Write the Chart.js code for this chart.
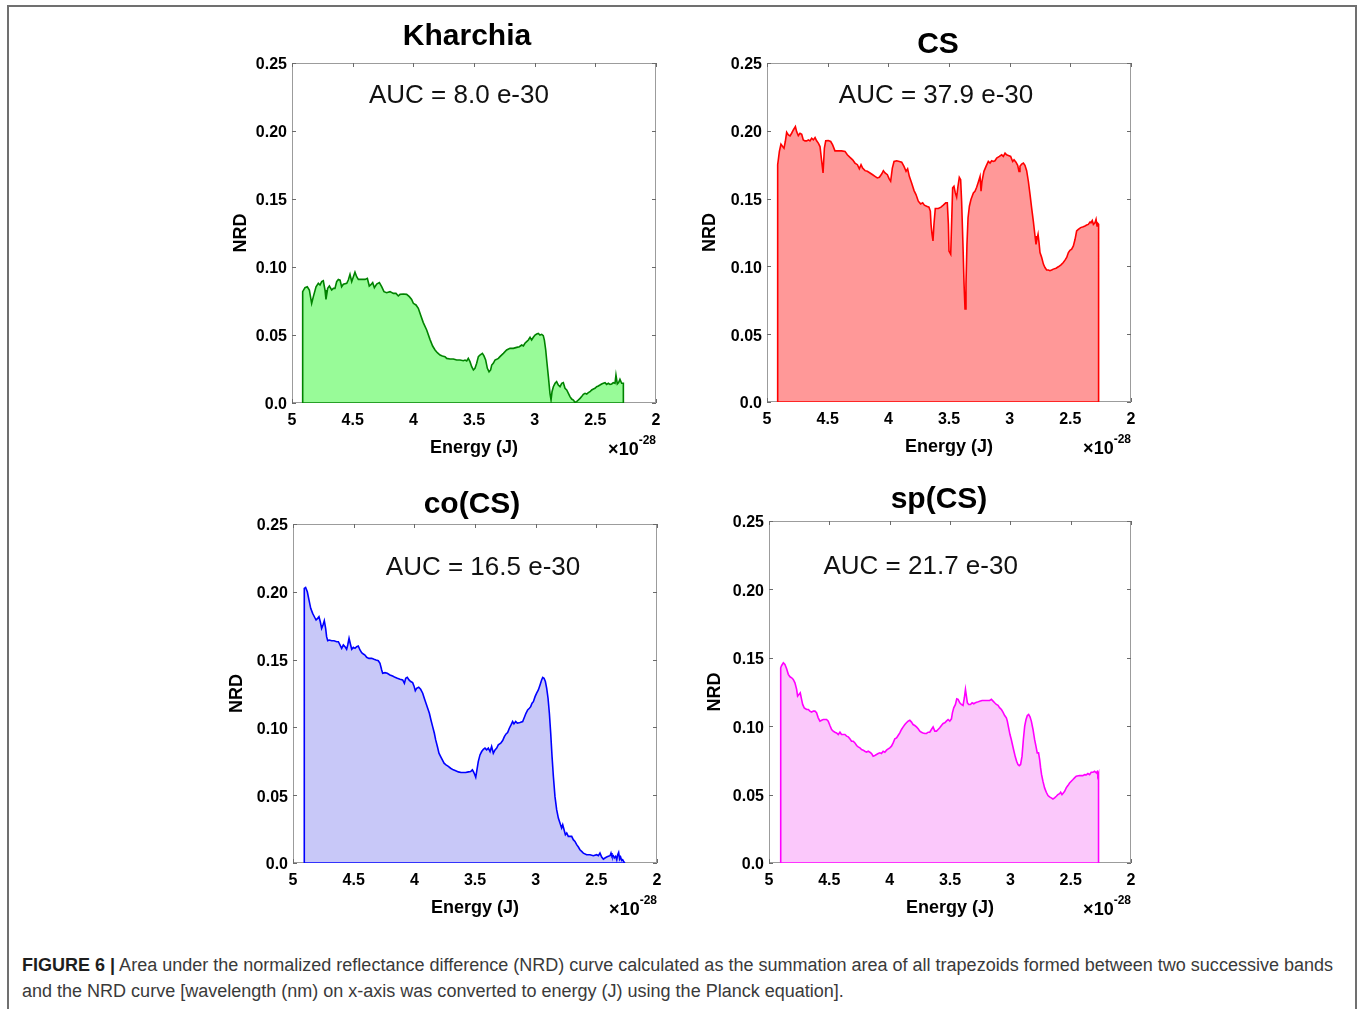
<!DOCTYPE html>
<html>
<head>
<meta charset="utf-8">
<title>NRD area under curve</title>
<script src="https://cdn.jsdelivr.net/npm/chart.js@4.4.1/dist/chart.umd.min.js"></script>
<style>
  html, body { margin: 0; padding: 0; background: #fff; }
  body { width: 1360px; height: 1009px; position: relative; overflow: hidden;
         font-family: 'Liberation Sans', Arial, Helvetica, sans-serif; }
  .frame { position: absolute; left: 7px; top: 5px; width: 1346px; height: 1100px;
           border: 2px solid #707070; border-bottom: none; }
  canvas { position: absolute; }
  .caption { position: absolute; left: 22px; top: 952px; font-size: 18px; line-height: 26px;
             color: #3a3a3a; white-space: nowrap; }
  .caption .row { display: block; height: 26px; }
  .caption .line { display: inline-block; transform-origin: 0 50%; }
  .caption b { color: #1e1e1e; }
</style>
</head>
<body>
<div class="frame"></div>
<canvas id="p0"></canvas>
<canvas id="p1"></canvas>
<canvas id="p2"></canvas>
<canvas id="p3"></canvas>
<div class="caption">
  <div class="row"><span class="line"><b>FIGURE 6 |</b> Area under the normalized reflectance difference (NRD) curve calculated as the summation area of all trapezoids formed between two successive bands</span></div>
  <div class="row"><span class="line">and the NRD curve [wavelength (nm) on x-axis was converted to energy (J) using the Planck equation].</span></div>
</div>
<script>
// ---- axis ticks -------------------------------------------------------------
const xTickValues = [5, 4.5, 4, 3.5, 3, 2.5, 2];
const xTickLabels = ['5', '4.5', '4', '3.5', '3', '2.5', '2'];
const yTickValues = [0, 0.05, 0.10, 0.15, 0.20, 0.25];
const yTickLabels = ['0.0', '0.05', '0.10', '0.15', '0.20', '0.25'];

// ---- panel titles and areas under curve (x 1e-30) ---------------------------
const panelTitles = ['Kharchia', 'CS', 'co(CS)', 'sp(CS)'];
const aucValues = ['8.0', '37.9', '16.5', '21.7'];

// ---- Kharchia: energy (x1e-28 J) and NRD ------------------------------------
const kharchiaEnergy = [
  4.912,4.893,4.874,4.857,4.838,4.824,4.802,4.783,4.769,4.755,
  4.742,4.728,4.720,4.706,4.692,4.673,4.659,4.646,4.632,4.618,
  4.604,4.591,4.577,4.549,4.536,4.522,4.508,4.494,4.481,4.467,
  4.453,4.426,4.398,4.379,4.363,4.352,4.335,4.321,4.302,4.280,
  4.261,4.242,4.220,4.192,4.165,4.143,4.124,4.110,4.082,4.055,
  4.033,4.014,4.000,3.978,3.959,3.940,3.918,3.890,3.863,3.841,
  3.821,3.802,3.780,3.761,3.739,3.725,3.698,3.670,3.643,3.615,
  3.588,3.574,3.560,3.547,3.533,3.519,3.505,3.492,3.478,3.464,
  3.451,3.431,3.418,3.404,3.390,3.376,3.363,3.354,3.341,3.327,
  3.313,3.299,3.286,3.258,3.231,3.203,3.176,3.148,3.126,3.107,
  3.093,3.080,3.066,3.052,3.038,3.025,3.011,2.997,2.983,2.970,
  2.956,2.942,2.929,2.920,2.909,2.901,2.887,2.874,2.865,2.857,
  2.846,2.832,2.819,2.805,2.791,2.777,2.764,2.750,2.736,2.722,
  2.709,2.695,2.681,2.668,2.654,2.640,2.626,2.613,2.599,2.585,
  2.571,2.558,2.544,2.530,2.516,2.503,2.489,2.475,2.462,2.448,
  2.434,2.420,2.407,2.393,2.379,2.365,2.352,2.338,2.330,2.319,
  2.308,2.297,2.283,2.269
];
const kharchiaNrd = [
  0.0819,0.0848,0.0855,0.0831,0.0733,0.0782,0.0855,0.0880,0.0868,0.0892,
  0.0899,0.0831,0.0762,0.0843,0.0860,0.0831,0.0843,0.0843,0.0892,0.0909,
  0.0904,0.0855,0.0873,0.0880,0.0904,0.0946,0.0892,0.0929,0.0963,0.0929,
  0.0909,0.0909,0.0909,0.0917,0.0860,0.0868,0.0885,0.0848,0.0875,0.0885,
  0.0855,0.0819,0.0811,0.0819,0.0806,0.0806,0.0787,0.0799,0.0801,0.0799,
  0.0782,0.0762,0.0733,0.0721,0.0696,0.0647,0.0591,0.0537,0.0468,0.0419,
  0.0390,0.0370,0.0353,0.0346,0.0341,0.0328,0.0324,0.0324,0.0316,0.0316,
  0.0311,0.0316,0.0309,0.0328,0.0304,0.0267,0.0243,0.0255,0.0292,0.0341,
  0.0353,0.0365,0.0346,0.0316,0.0255,0.0230,0.0243,0.0279,0.0292,0.0316,
  0.0321,0.0328,0.0341,0.0365,0.0390,0.0402,0.0402,0.0409,0.0414,0.0426,
  0.0419,0.0439,0.0451,0.0463,0.0483,0.0463,0.0483,0.0500,0.0507,0.0512,
  0.0500,0.0505,0.0495,0.0463,0.0390,0.0316,0.0194,0.0071,0.0022,0.0083,
  0.0120,0.0145,0.0157,0.0132,0.0120,0.0145,0.0150,0.0108,0.0096,0.0071,
  0.0047,0.0029,0.0022,0.0005,0.0010,0.0022,0.0034,0.0047,0.0064,0.0071,
  0.0066,0.0076,0.0083,0.0096,0.0103,0.0108,0.0120,0.0125,0.0132,0.0140,
  0.0145,0.0150,0.0137,0.0145,0.0137,0.0140,0.0150,0.0145,0.0206,0.0140,
  0.0150,0.0174,0.0145,0.0145
];

// ---- CS ---------------------------------------------------------------------
const csEnergy = [
  4.912,4.898,4.885,4.871,4.860,4.849,4.838,4.824,4.810,4.797,
  4.783,4.766,4.756,4.742,4.728,4.714,4.701,4.687,4.673,4.659,
  4.646,4.632,4.618,4.604,4.591,4.577,4.563,4.549,4.538,4.527,
  4.516,4.495,4.475,4.459,4.440,4.412,4.385,4.357,4.338,4.316,
  4.294,4.275,4.255,4.239,4.225,4.212,4.192,4.173,4.151,4.129,
  4.110,4.091,4.074,4.055,4.041,4.027,4.008,3.994,3.981,3.967,
  3.953,3.931,3.909,3.890,3.871,3.854,3.841,3.827,3.808,3.788,
  3.772,3.753,3.734,3.717,3.703,3.684,3.665,3.654,3.648,3.640,
  3.632,3.624,3.613,3.588,3.566,3.547,3.527,3.514,3.505,3.500,
  3.486,3.478,3.470,3.459,3.448,3.437,3.426,3.415,3.404,3.396,
  3.385,3.376,3.368,3.360,3.352,3.343,3.332,3.319,3.299,3.286,
  3.272,3.258,3.244,3.236,3.228,3.212,3.195,3.176,3.162,3.148,
  3.135,3.121,3.107,3.085,3.066,3.052,3.038,3.025,3.011,2.992,
  2.975,2.964,2.948,2.934,2.923,2.915,2.901,2.887,2.874,2.860,
  2.846,2.832,2.819,2.805,2.791,2.783,2.775,2.766,2.758,2.750,
  2.736,2.722,2.709,2.695,2.681,2.668,2.654,2.640,2.618,2.599,
  2.577,2.558,2.544,2.530,2.516,2.503,2.489,2.475,2.461,2.448,
  2.434,2.415,2.393,2.379,2.365,2.352,2.338,2.330,2.319,2.310,
  2.297,2.288,2.280,2.272,2.267
];
const csNrd = [
  0.1750,0.1848,0.1901,0.1884,0.1872,0.1921,0.1989,0.1970,0.1962,0.1982,
  0.2006,0.2031,0.1994,0.1965,0.1982,0.1975,0.1933,0.1926,0.1926,0.1933,
  0.1926,0.1945,0.1933,0.1950,0.1926,0.1909,0.1884,0.1774,0.1689,0.1872,
  0.1926,0.1928,0.1921,0.1896,0.1852,0.1852,0.1852,0.1848,0.1823,0.1804,
  0.1786,0.1762,0.1750,0.1720,0.1750,0.1725,0.1706,0.1701,0.1689,0.1676,
  0.1664,0.1652,0.1657,0.1681,0.1706,0.1689,0.1676,0.1647,0.1628,0.1725,
  0.1774,0.1779,0.1774,0.1769,0.1738,0.1701,0.1720,0.1664,0.1615,0.1559,
  0.1530,0.1481,0.1461,0.1469,0.1452,0.1444,0.1437,0.1408,0.1310,0.1237,
  0.1188,0.1310,0.1427,0.1427,0.1437,0.1452,0.1469,0.1469,0.1310,0.1114,
  0.1090,0.1334,0.1579,0.1591,0.1542,0.1510,0.1591,0.1657,0.1640,0.1481,
  0.1163,0.0870,0.0687,0.0870,0.1163,0.1359,0.1444,0.1493,0.1542,0.1554,
  0.1584,0.1623,0.1664,0.1554,0.1628,0.1701,0.1738,0.1774,0.1762,0.1779,
  0.1774,0.1779,0.1799,0.1811,0.1823,0.1811,0.1835,0.1823,0.1818,0.1811,
  0.1774,0.1786,0.1769,0.1745,0.1701,0.1738,0.1755,0.1762,0.1745,0.1706,
  0.1628,0.1530,0.1432,0.1334,0.1224,0.1163,0.1200,0.1237,0.1175,0.1102,
  0.1066,0.1017,0.0992,0.0973,0.0973,0.0968,0.0973,0.0980,0.0987,0.0997,
  0.1012,0.1029,0.1046,0.1066,0.1102,0.1119,0.1127,0.1151,0.1200,0.1261,
  0.1273,0.1286,0.1293,0.1298,0.1305,0.1310,0.1327,0.1322,0.1339,0.1310,
  0.1322,0.1347,0.1298,0.1315,0.1310
];

// ---- co(CS) -----------------------------------------------------------------
const coEnergy = [
  4.907,4.896,4.882,4.868,4.854,4.838,4.824,4.810,4.797,4.786,
  4.775,4.764,4.753,4.742,4.731,4.723,4.714,4.701,4.681,4.662,
  4.640,4.626,4.613,4.599,4.585,4.571,4.558,4.549,4.538,4.527,
  4.516,4.503,4.489,4.475,4.462,4.448,4.434,4.420,4.407,4.393,
  4.374,4.352,4.332,4.316,4.297,4.283,4.269,4.261,4.242,4.223,
  4.201,4.179,4.159,4.140,4.118,4.096,4.082,4.071,4.058,4.044,
  4.030,4.014,4.003,3.992,3.981,3.964,3.948,3.931,3.918,3.904,
  3.890,3.876,3.863,3.849,3.835,3.824,3.810,3.797,3.783,3.769,
  3.755,3.739,3.720,3.701,3.679,3.659,3.637,3.615,3.596,3.577,
  3.555,3.536,3.522,3.514,3.505,3.494,3.486,3.473,3.459,3.445,
  3.431,3.418,3.404,3.390,3.376,3.363,3.349,3.335,3.321,3.308,
  3.288,3.272,3.258,3.244,3.231,3.217,3.203,3.190,3.179,3.165,
  3.151,3.129,3.107,3.093,3.080,3.066,3.052,3.041,3.030,3.019,
  3.005,2.992,2.978,2.964,2.951,2.942,2.931,2.920,2.909,2.898,
  2.887,2.876,2.865,2.854,2.841,2.827,2.813,2.799,2.786,2.777,
  2.766,2.755,2.744,2.731,2.717,2.703,2.690,2.676,2.662,2.648,
  2.635,2.621,2.607,2.580,2.552,2.525,2.497,2.483,2.470,2.456,
  2.442,2.429,2.415,2.401,2.387,2.379,2.371,2.360,2.352,2.341,
  2.332,2.324,2.316,2.308,2.300,2.291,2.283,2.272,2.264
];
const coNrd = [
  0.2025,0.2032,0.2000,0.1939,0.1878,0.1841,0.1816,0.1792,0.1804,0.1816,
  0.1779,0.1730,0.1755,0.1787,0.1730,0.1669,0.1639,0.1644,0.1639,0.1639,
  0.1632,0.1632,0.1608,0.1583,0.1608,0.1595,0.1576,0.1608,0.1657,0.1615,
  0.1576,0.1590,0.1583,0.1595,0.1600,0.1571,0.1551,0.1541,0.1534,0.1517,
  0.1509,0.1509,0.1502,0.1497,0.1492,0.1473,0.1423,0.1399,0.1404,0.1399,
  0.1387,0.1379,0.1369,0.1362,0.1355,0.1350,0.1325,0.1362,0.1369,0.1350,
  0.1338,0.1330,0.1306,0.1271,0.1288,0.1296,0.1281,0.1252,0.1215,0.1178,
  0.1141,0.1104,0.1055,0.1006,0.0957,0.0908,0.0859,0.0810,0.0785,0.0761,
  0.0736,0.0724,0.0712,0.0699,0.0687,0.0680,0.0672,0.0667,0.0667,0.0667,
  0.0672,0.0675,0.0687,0.0675,0.0658,0.0633,0.0675,0.0748,0.0797,0.0822,
  0.0839,0.0847,0.0834,0.0847,0.0822,0.0859,0.0810,0.0834,0.0847,0.0871,
  0.0883,0.0903,0.0932,0.0952,0.0962,0.0994,0.1018,0.1043,0.1026,0.1043,
  0.1031,0.1036,0.1043,0.1075,0.1104,0.1129,0.1141,0.1153,0.1178,0.1190,
  0.1227,0.1252,0.1276,0.1313,0.1350,0.1369,0.1362,0.1338,0.1288,0.1215,
  0.1104,0.0957,0.0785,0.0638,0.0491,0.0393,0.0331,0.0294,0.0258,0.0282,
  0.0245,0.0208,0.0221,0.0196,0.0196,0.0196,0.0172,0.0159,0.0135,0.0118,
  0.0098,0.0086,0.0073,0.0061,0.0061,0.0054,0.0061,0.0054,0.0073,0.0044,
  0.0029,0.0037,0.0044,0.0049,0.0054,0.0073,0.0049,0.0054,0.0037,0.0049,
  0.0024,0.0061,0.0078,0.0029,0.0044,0.0019,0.0024,0.0007,0.0000
];

// ---- sp(CS) -----------------------------------------------------------------
const spEnergy = [
  4.903,4.895,4.881,4.868,4.854,4.840,4.826,4.812,4.799,4.785,
  4.771,4.763,4.752,4.741,4.730,4.721,4.708,4.688,4.674,4.661,
  4.647,4.633,4.619,4.606,4.592,4.578,4.564,4.550,4.537,4.523,
  4.509,4.495,4.481,4.468,4.454,4.440,4.426,4.412,4.399,4.385,
  4.371,4.357,4.343,4.330,4.316,4.302,4.288,4.274,4.261,4.247,
  4.233,4.219,4.206,4.192,4.178,4.164,4.150,4.137,4.123,4.109,
  4.095,4.081,4.068,4.054,4.040,4.026,4.012,3.999,3.985,3.971,
  3.957,3.943,3.930,3.916,3.902,3.888,3.874,3.861,3.847,3.833,
  3.819,3.806,3.792,3.778,3.764,3.750,3.737,3.723,3.709,3.695,
  3.681,3.668,3.654,3.640,3.626,3.612,3.599,3.585,3.571,3.557,
  3.543,3.530,3.516,3.502,3.488,3.480,3.469,3.455,3.444,3.433,
  3.419,3.406,3.392,3.381,3.372,3.364,3.356,3.345,3.331,3.317,
  3.303,3.290,3.273,3.254,3.234,3.212,3.190,3.171,3.157,3.143,
  3.130,3.116,3.102,3.088,3.074,3.061,3.047,3.033,3.025,3.014,
  3.003,2.992,2.981,2.970,2.959,2.948,2.937,2.926,2.915,2.903,
  2.892,2.881,2.870,2.859,2.848,2.837,2.826,2.812,2.799,2.785,
  2.777,2.766,2.757,2.749,2.741,2.730,2.716,2.702,2.688,2.675,
  2.661,2.647,2.633,2.619,2.606,2.592,2.583,2.572,2.561,2.550,
  2.537,2.523,2.509,2.495,2.481,2.468,2.454,2.426,2.399,2.385,
  2.371,2.357,2.343,2.330,2.316,2.302,2.288,2.280,2.275,2.269
];
const spNrd = [
  0.1427,0.1444,0.1464,0.1452,0.1420,0.1379,0.1361,0.1354,0.1342,0.1317,
  0.1269,0.1220,0.1232,0.1244,0.1196,0.1159,0.1134,0.1122,0.1122,0.1110,
  0.1103,0.1110,0.1110,0.1098,0.1061,0.1037,0.1044,0.1049,0.1049,0.1049,
  0.1037,0.1005,0.0976,0.0964,0.0956,0.0951,0.0939,0.0956,0.0939,0.0939,
  0.0939,0.0927,0.0922,0.0908,0.0890,0.0890,0.0878,0.0859,0.0849,0.0842,
  0.0829,0.0825,0.0817,0.0810,0.0817,0.0810,0.0800,0.0781,0.0786,0.0793,
  0.0800,0.0805,0.0800,0.0817,0.0810,0.0825,0.0834,0.0842,0.0854,0.0878,
  0.0908,0.0915,0.0932,0.0951,0.0976,0.0995,0.1012,0.1025,0.1037,0.1044,
  0.1030,0.1012,0.1005,0.0995,0.0981,0.0964,0.0956,0.0951,0.0947,0.0947,
  0.0956,0.0956,0.0976,0.0995,0.0964,0.0964,0.0976,0.0988,0.1005,0.1020,
  0.1025,0.1037,0.1049,0.1037,0.1054,0.1098,0.1134,0.1159,0.1200,0.1196,
  0.1171,0.1159,0.1152,0.1208,0.1269,0.1220,0.1171,0.1159,0.1159,0.1171,
  0.1164,0.1171,0.1176,0.1183,0.1188,0.1188,0.1188,0.1188,0.1196,0.1183,
  0.1171,0.1159,0.1152,0.1134,0.1122,0.1103,0.1078,0.1061,0.1037,0.0988,
  0.0939,0.0903,0.0859,0.0817,0.0776,0.0744,0.0720,0.0712,0.0720,0.0781,
  0.0903,0.1000,0.1049,0.1078,0.1086,0.1069,0.1037,0.0976,0.0903,0.0842,
  0.0805,0.0805,0.0756,0.0695,0.0646,0.0598,0.0549,0.0517,0.0493,0.0483,
  0.0476,0.0468,0.0476,0.0488,0.0500,0.0507,0.0517,0.0500,0.0512,0.0524,
  0.0549,0.0566,0.0585,0.0598,0.0610,0.0622,0.0634,0.0639,0.0639,0.0646,
  0.0644,0.0654,0.0646,0.0663,0.0663,0.0671,0.0659,0.0668,0.0639,0.0654
];

// ---- page layout of the four panels (plot-box edges in page pixels) ---------
const panels = [
  { canvas: 'p0', energy: kharchiaEnergy, nrd: kharchiaNrd, line: '#008200', fill: '#98fb98',
    box: { left: 292, top: 63, right: 656, bottom: 403 }, titleDx: -7, titleDy: -26,
    aucAt: [3.624, 0.227], nrdGap: 52 },
  { canvas: 'p1', energy: csEnergy, nrd: csNrd, line: '#ff0000', fill: '#ff9898',
    box: { left: 767, top: 63, right: 1131, bottom: 402 }, titleDx: -11, titleDy: -18,
    aucAt: [3.607, 0.227], nrdGap: 58 },
  { canvas: 'p2', energy: coEnergy, nrd: coNrd, line: '#0000ff', fill: '#c8c8f8',
    box: { left: 293, top: 524, right: 657, bottom: 863 }, titleDx: -3, titleDy: -19,
    aucAt: [3.434, 0.219], nrdGap: 57 },
  { canvas: 'p3', energy: spEnergy, nrd: spNrd, line: '#ff00ff', fill: '#fbc8fb',
    box: { left: 769, top: 521, right: 1131, bottom: 863 }, titleDx: -11, titleDy: -21,
    aucAt: [3.743, 0.218], nrdGap: 55 }
];

const MARGIN = { l: 80, t: 60, r: 30, b: 65 };
const FONT = "'Liberation Sans', Arial, Helvetica, sans-serif";
Chart.defaults.font.family = FONT;

// Box around the plot area with inward tick marks on all four sides,
// plus the panel title, AUC note and x-axis exponent.
const panelFrame = {
  id: 'panelFrame',
  beforeDatasetsDraw(chart, args, o) {
    const { ctx, chartArea: a, scales: { x, y } } = chart;
    ctx.save();
    ctx.lineWidth = 1;
    ctx.strokeStyle = '#9c9c9c';
    ctx.strokeRect(a.left + 0.5, a.top + 0.5, a.right - a.left - 1, a.bottom - a.top - 1);
    ctx.strokeStyle = '#6a6a6a';
    ctx.beginPath();
    const L = 4;
    xTickValues.forEach(v => {
      const px = Math.round(x.getPixelForValue(v)) + 0.5;
      ctx.moveTo(px, a.bottom); ctx.lineTo(px, a.bottom - L);
      ctx.moveTo(px, a.top); ctx.lineTo(px, a.top + L);
    });
    yTickValues.forEach(v => {
      const py = Math.round(y.getPixelForValue(v)) + 0.5;
      ctx.moveTo(a.left, py); ctx.lineTo(a.left + L, py);
      ctx.moveTo(a.right, py); ctx.lineTo(a.right - L, py);
    });
    ctx.stroke();
    ctx.restore();
  },
  afterDraw(chart, args, o) {
    const { ctx, chartArea: a, scales: { x, y } } = chart;
    ctx.save();
    ctx.fillStyle = '#000';
    ctx.textBaseline = 'middle';
    ctx.textAlign = 'center';
    ctx.font = 'bold 30px ' + FONT;
    ctx.fillText(o.title, (a.left + a.right) / 2 + o.titleDx, a.top + o.titleDy);
    ctx.font = '26px ' + FONT;
    ctx.fillStyle = '#111';
    ctx.fillText(o.auc, x.getPixelForValue(o.aucAt[0]), y.getPixelForValue(o.aucAt[1]) + 2);
    // x 10^-28 scale factor under the right end of the x axis
    ctx.textAlign = 'left';
    ctx.textBaseline = 'alphabetic';
    ctx.fillStyle = '#000';
    ctx.font = 'bold 12px ' + FONT;
    const wExp = ctx.measureText('-28').width;
    ctx.font = 'bold 18px ' + FONT;
    const wBase = ctx.measureText('\u00d710').width;
    ctx.fillText('\u00d710', a.right - wExp - wBase, a.bottom + 52);
    ctx.font = 'bold 12px ' + FONT;
    ctx.fillText('-28', a.right - wExp, a.bottom + 41);
    ctx.restore();
  }
};

panels.forEach((p, i) => {
  const cv = document.getElementById(p.canvas);
  const boxW = p.box.right - p.box.left;
  const boxH = p.box.bottom - p.box.top;
  cv.width = boxW + MARGIN.l + MARGIN.r;
  cv.height = boxH + MARGIN.t + MARGIN.b;
  cv.style.left = (p.box.left - MARGIN.l) + 'px';
  cv.style.top = (p.box.top - MARGIN.t) + 'px';

  const first = p.energy[0];
  const last = p.energy[p.energy.length - 1];
  const curve = p.energy.map((e, k) => ({ x: e, y: p.nrd[k] }));
  // area outline: closed at both ends down to the baseline
  const area = [{ x: first, y: 0 }].concat(curve, [{ x: last, y: 0 }]);

  const nrdFont = 18, energyFont = 18;
  new Chart(cv, {
    type: 'line',
    data: {
      datasets: [
        { data: area, borderColor: p.line, backgroundColor: p.fill, borderWidth: 1.6,
          fill: 'origin', pointRadius: 0, tension: 0, order: 2 },
        { data: [{ x: first, y: 0 }, { x: last, y: 0 }], borderColor: p.line, borderWidth: 1.6,
          fill: false, pointRadius: 0, order: 1 }
      ]
    },
    options: {
      responsive: false, animation: false, devicePixelRatio: 1, events: [],
      layout: { padding: { left: 0, top: MARGIN.t, right: MARGIN.r, bottom: 0 } },
      plugins: {
        legend: { display: false }, tooltip: { enabled: false }, title: { display: false },
        panelFrame: { title: panelTitles[i], auc: 'AUC = ' + aucValues[i] + ' e-30',
                      titleDx: p.titleDx, titleDy: p.titleDy, aucAt: p.aucAt }
      },
      scales: {
        x: {
          type: 'linear', reverse: true, min: 2, max: 5,
          afterBuildTicks: s => { s.ticks = xTickValues.map(v => ({ value: v })); },
          afterFit: s => { s.height = MARGIN.b; },
          grid: { display: false, drawTicks: false }, border: { display: false },
          ticks: { autoSkip: false, maxRotation: 0, minRotation: 0, padding: 8, color: '#000',
                   font: { size: 16, weight: 'bold' },
                   callback: v => xTickLabels[xTickValues.indexOf(v)] },
          title: { display: true, text: 'Energy (J)', color: '#000',
                   font: { size: energyFont, weight: 'bold' },
                   padding: { top: 0, bottom: MARGIN.b - 45 - energyFont * 0.6 } }
        },
        y: {
          type: 'linear', min: 0, max: 0.25,
          afterBuildTicks: s => { s.ticks = yTickValues.map(v => ({ value: v })); },
          afterFit: s => { s.width = MARGIN.l; },
          grid: { display: false, drawTicks: false }, border: { display: false },
          ticks: { autoSkip: false, padding: 5, labelOffset: 2, color: '#000',
                   font: { size: 16, weight: 'bold' },
                   callback: v => yTickLabels[yTickValues.indexOf(v)] },
          title: { display: true, text: 'NRD', color: '#000',
                   font: { size: nrdFont, weight: 'bold' },
                   padding: { top: MARGIN.l - p.nrdGap - nrdFont * 0.6 + 1, bottom: 0 } }
        }
      }
    },
    plugins: [panelFrame]
  });
});

// Fit the caption lines to the frame width (narrow caption face).
function fitCaption() {
  const lines = document.querySelectorAll('.caption .line');
  lines.forEach(el => { el.style.transform = 'none'; });
  const w = lines[0].getBoundingClientRect().width;
  const k = 1311 / w;
  lines.forEach(el => { el.style.transform = 'scaleX(' + k + ')'; });
}
fitCaption();
if (document.fonts && document.fonts.ready) document.fonts.ready.then(fitCaption);
</script>
</body>
</html>
